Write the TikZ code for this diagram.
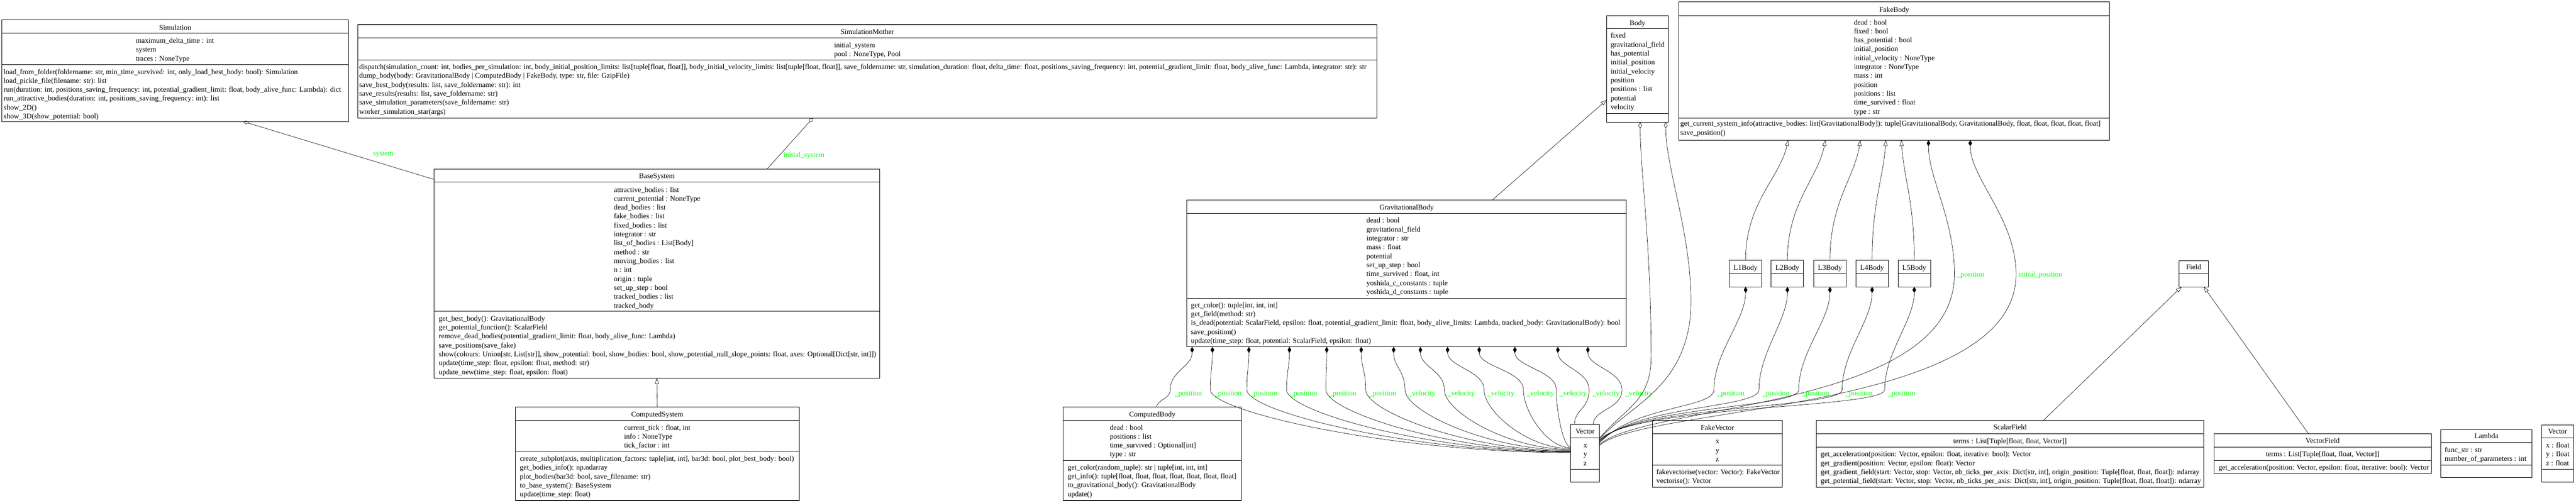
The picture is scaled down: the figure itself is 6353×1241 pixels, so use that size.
\documentclass[tikz,border=0pt]{standalone}
\usepackage{fontspec}
\setmainfont{Liberation Serif}
\usepackage{tikz}
\usetikzlibrary{arrows.meta}
\usepackage{xcolor}
\definecolor{labelgreen}{RGB}{0,255,0}
\tikzset{
    classbox/.style={
        draw,
        anchor=north west,
        line width=1.3pt,
        inner sep=0pt,
        outer sep=0pt
    },
    classline/.style={line width=1.3pt},
    classtitle/.style={font=\fontsize{18}{22}\selectfont, anchor=base, inner sep=0pt},
    classtext/.style={font=\fontsize{18}{22}\selectfont, anchor=base west, inner sep=0pt},
    edgelabel/.style={font=\fontsize{18}{22}\selectfont, text=labelgreen, anchor=base west, inner sep=0pt},
    assoc/.style={draw, line width=0.8pt},
    comp/.style={assoc, -{Diamond[length=15pt, width=9pt]}},
    aggr/.style={assoc, -{Diamond[open, length=15pt, width=9pt]}},
    inherit/.style={assoc, -{Triangle[open, length=14pt, width=10pt]}}
}
% name, left, top, right, bottom, title baseline, title, separators
\newcommand{\umlclass}[8]{%
  \node[classbox, minimum width={#4-#2}, minimum height={#5-#3}] (#1) at (#2,#3) {};
  \node[classtitle] (#1-t) at ({(#2+#4)/2},#6) {#7};
  \foreach \s in {#8} {\draw[classline] (#2,\s) -- (#4,\s);}
}
% prefix, x, first baseline, lines
\newcommand{\umllines}[4]{%
  \foreach \entry [count=\i] in {#4} {
    \node[classtext] (#1\i) at (#2,{#3+22*(\i-1)}) {\entry};
  }
}

\begin{document}
\begin{tikzpicture}[x=1pt, y=-1pt]
  \useasboundingbox (0,0) rectangle (6353,1241);

  % Simulation side
  \umlclass{sim}{5}{49}{859}{300}{74}{Simulation}{82,159}
  \umllines{sim-a}{335}{106}{{maximum\_delta\_time : int},{system},{traces : NoneType}}
  \umllines{sim-m}{9}{183}{{load\_from\_folder(foldername: str, min\_time\_survived: int, only\_load\_best\_body: bool): Simulation},{load\_pickle\_file(filename: str): list},{run(duration: int, positions\_saving\_frequency: int, potential\_gradient\_limit: float, body\_alive\_func: Lambda): dict},{run\_attractive\_bodies(duration: int, positions\_saving\_frequency: int): list},{show\_2D()},{show\_3D(show\_potential: bool)}}

  \umlclass{smo}{882}{61}{3396}{291}{84}{SimulationMother}{93,148}
  \umllines{smo-a}{2057}{117}{{initial\_system},{pool : NoneType, Pool}}
  \umllines{smo-m}{886}{171}{{dispatch(simulation\_count: int, bodies\_per\_simulation: int, body\_initial\_position\_limits: list[tuple[float, float]], body\_initial\_velocity\_limits: list[tuple[float, float]], save\_foldername: str, simulation\_duration: float, delta\_time: float, positions\_saving\_frequency: int, potential\_gradient\_limit: float, body\_alive\_func: Lambda, integrator: str): str},{dump\_body(body: GravitationalBody | ComputedBody | FakeBody, type: str, file: GzipFile)},{save\_best\_body(results: list, save\_foldername: str): int},{save\_results(results: list, save\_foldername: str)},{save\_simulation\_parameters(save\_foldername: str)},{worker\_simulation\_star(args)}}

  % Systems
  \umlclass{bs}{1071}{417}{2169}{933}{440}{BaseSystem}{449,768}
  \umllines{bs-a}{1514}{474}{{attractive\_bodies : list},{current\_potential : NoneType},{dead\_bodies : list},{fake\_bodies : list},{fixed\_bodies : list},{integrator : str},{list\_of\_bodies : List[Body]},{method : str},{moving\_bodies : list},{n : int},{origin : tuple},{set\_up\_step : bool},{tracked\_bodies : list},{tracked\_body}}
  \umllines{bs-m}{1082}{792}{{get\_best\_body(): GravitationalBody},{get\_potential\_function(): ScalarField},{remove\_dead\_bodies(potential\_gradient\_limit: float, body\_alive\_func: Lambda)},{save\_positions(save\_fake)},{show(colours: Union[str, List[str]], show\_potential: bool, show\_bodies: bool, show\_potential\_null\_slope\_points: float, axes: Optional[Dict[str, int]])},{update(time\_step: float, epsilon: float, method: str)},{update\_new(time\_step: float, epsilon: float)}}

  \umlclass{csys}{1271}{1004}{1971}{1235}{1028}{ComputedSystem}{1037,1114}
  \umllines{csys-a}{1539}{1061}{{current\_tick : float, int},{info : NoneType},{tick\_factor : int}}
  \umllines{csys-m}{1282}{1138}{{create\_subplot(axis, multiplication\_factors: tuple[int, int], bar3d: bool, plot\_best\_body: bool)},{get\_bodies\_info(): np.ndarray},{plot\_bodies(bar3d: bool, save\_filename: str)},{to\_base\_system(): BaseSystem},{update(time\_step: float)}}

  % Bodies
  \umlclass{cb}{2622}{1004}{3062}{1235}{1028}{ComputedBody}{1037,1136}
  \umllines{cb-a}{2737}{1061}{{dead : bool},{positions : list},{time\_survived : Optional[int]},{type : str}}
  \umllines{cb-m}{2633}{1159}{{get\_color(random\_tuple): str | tuple[int, int, int]},{get\_info(): tuple[float, float, float, float, float, float, float]},{to\_gravitational\_body(): GravitationalBody},{update()}}

  \umlclass{gb}{2927}{494}{4011}{856}{518}{GravitationalBody}{527,736}
  \umllines{gb-a}{3370}{550}{{dead : bool},{gravitational\_field},{integrator : str},{mass : float},{potential},{set\_up\_step : bool},{time\_survived : float, int},{yoshida\_c\_constants : tuple},{yoshida\_d\_constants : tuple}}
  \umllines{gb-m}{2937}{759}{{get\_color(): tuple[int, int, int]},{get\_field(method: str)},{is\_dead(potential: ScalarField, epsilon: float, potential\_gradient\_limit: float, body\_alive\_limits: Lambda, tracked\_body: GravitationalBody): bool},{save\_position()},{update(time\_step: float, potential: ScalarField, epsilon: float)}}

  \umlclass{bd}{3962}{39}{4115}{302}{63}{Body}{71,280}
  \umllines{bd-a}{3972}{94}{{fixed},{gravitational\_field},{has\_potential},{initial\_position},{initial\_velocity},{position},{positions : list},{potential},{velocity}}

  \umlclass{fb}{4140}{5}{5203}{346}{30}{FakeBody}{39,291}
  \umllines{fb-a}{4572}{61}{{dead : bool},{fixed : bool},{has\_potential : bool},{initial\_position},{initial\_velocity : NoneType},{integrator : NoneType},{mass : int},{position},{positions : list},{time\_survived : float},{type : str}}
  \umllines{fb-m}{4144}{311}{{get\_current\_system\_info(attractive\_bodies: list[GravitationalBody]): tuple[GravitationalBody, GravitationalBody, float, float, float, float, float]},{save\_position()}}

  \foreach \n/\lx in {1/4265, 2/4368, 3/4473, 4/4577, 5/4681} {
    \umlclass{l\n}{\lx}{642}{\lx+80}{708}{666}{L\n Body}{675}
  }

  % Vectors and fields
  \umlclass{vm}{3873}{1048}{3945}{1190}{1071}{Vector}{1081,1158}
  \umllines{vm-a}{3905}{1105}{{x},{y},{z}}

  \umlclass{fv}{4075}{1037}{4396}{1202}{1061}{FakeVector}{1070,1148}
  \umllines{fv-a}{4231}{1095}{{x},{y},{z}}
  \umllines{fv-m}{4085}{1171}{{fakevectorise(vector: Vector): FakeVector},{vectorise(): Vector}}

  \umlclass{fld}{5374}{643}{5446}{708}{665}{Field}{675}

  \umlclass{sf}{4479}{1037}{5435}{1202}{1060}{ScalarField}{1070,1103}
  \node[classtitle] (sf-a1) at (4957,1094) {terms : List[Tuple[float, float, Vector]]};
  \umllines{sf-m}{4490}{1127}{{get\_acceleration(position: Vector, epsilon: float, iterative: bool): Vector},{get\_gradient(position: Vector, epsilon: float): Vector},{get\_gradient\_field(start: Vector, stop: Vector, nb\_ticks\_per\_axis: Dict[str, int], origin\_position: Tuple[float, float, float]): ndarray},{get\_potential\_field(start: Vector, stop: Vector, nb\_ticks\_per\_axis: Dict[str, int], origin\_position: Tuple[float, float, float]): ndarray}}

  \umlclass{vf}{5460}{1070}{5996}{1168}{1093}{VectorField}{1103,1136}
  \node[classtitle] (vf-a1) at (5728,1127) {terms : List[Tuple[float, float, Vector]]};
  \umllines{vf-m}{5471}{1160}{{get\_acceleration(position: Vector, epsilon: float, iterative: bool): Vector}}

  \umlclass{lam}{6020}{1060}{6244}{1179}{1082}{Lambda}{1092,1148}
  \umllines{lam-a}{6029}{1116}{{func\_str : str},{number\_of\_parameters : int}}

  \umlclass{vr}{6268}{1049}{6347}{1190}{1071}{Vector}{1081,1158}
  \umllines{vr-a}{6279}{1105}{{x : float},{y : float},{z : float}}

  % Aggregations
  \draw[aggr] ([yshift=232]bs.west) -- ([xshift=168]sim.south);
  \draw[aggr] ([xshift=272]bs.north) -- ([xshift=-134]smo.south);
  \node[edgelabel, anchor=base] (lsys) at (945,384) {system};
  \node[edgelabel] (linit) at (1932,388) {initial\_system};

  % Generalizations
  \draw[inherit] (csys.north) -- (bs.south);
  \draw[inherit] ([xshift=211]gb.north) -- ([yshift=-76.5]bd.west);
  \foreach \n/\lx/\tx in {1/4305/4410, 2/4408.5/4502, 3/4513/4588, 4/4617/4651, 5/4721/4689} {
    \draw[inherit] (l\n.north) .. controls (\lx,500) and ({\tx-0.2*(\tx-\lx)},440) .. ([xshift={\tx-4671.5}]fb.south);
  }
  \draw[inherit] ([xshift=83]sf.north) -- ([xshift=-30]fld.south);
  \draw[inherit] ([xshift=-35]vf.north) -- ([xshift=25]fld.south);

  % Compositions of GravitationalBody
  \draw[comp] ([xshift=10]cb.north) .. controls (2856,985) and (2886,985) .. (2886,962) .. controls (2886,915) and (2940,905) .. ([xshift=-529]gb.south);
  \foreach \d/\v/\ys in {2990/2985/2, 3080/3075/3, 3180/3173/4, 3272/3270/5, 3357/3368/6, 3437/3465/8, 3503/3562/10, 3570/3660/12, 3648/3757/14, 3736/3838/16} {
    \draw[comp] ([yshift=\ys]vm.west) .. controls ({(3873+\v)/2},{1119-\ys}) and (\v,1015) .. (\v,962) .. controls (\v,915) and (\d,905) .. ([xshift={\d-3469}]gb.south);
  }
  \draw[comp] ([xshift=-26]vm.north) .. controls (3883,1010) and (3919,1010) .. (3919,962) .. controls (3919,915) and (3842,905) .. ([xshift=373]gb.south);
  \draw[comp] ([xshift=20]vm.north) .. controls (3929,1010) and (4000,1010) .. (4000,962) .. controls (4000,915) and (3916,905) .. ([xshift=447]gb.south);
  \foreach \lx/\lab [count=\i] in {2897/position, 2995/position, 3083/position, 3181/position, 3278/position, 3376/position, 3473/velocity, 3570/velocity, 3668/velocity, 3765/velocity, 3846/velocity, 3927/velocity, 4008/velocity} {
    \node[edgelabel] (gl\i) at (\lx,976) {\_\lab};
  }

  % Body, FakeBody and L bodies to Vector
  \draw[aggr] ([yshift=38]vm.east) .. controls (4010,1005) and (4072,990) .. (4072,880) .. controls (4072,600) and (4045,420) .. ([xshift=6.5]bd.south);
  \draw[aggr] ([yshift=36]vm.east) .. controls (4020,1000) and (4150,960) .. (4169,780) .. controls (4180,600) and (4108,420) .. ([xshift=69.5]bd.south);
  \draw[comp] ([yshift=22]vm.east) .. controls (4060,995) and (4820,1012) .. (4820,677) .. controls (4820,540) and (4756,440) .. ([xshift=84.5]fb.south);
  \draw[comp] ([yshift=20]vm.east) .. controls (4060,1000) and (4972,1018) .. (4972,677) .. controls (4972,540) and (4859,440) .. ([xshift=187.5]fb.south);
  \node[edgelabel] (lfb1) at (4826,683) {\_position};
  \node[edgelabel] (lfb2) at (4977,683) {initial\_position};
  \foreach \n/\v/\lx/\ys in {1/4227/4305/26, 2/4338/4408.5/28, 3/4436/4513/30, 4/4543/4617/32, 5/4648/4721/34} {
    \draw[comp] ([yshift=\ys]vm.east) .. controls (4030,1000) and (\v,1008) .. (\v,962) .. controls (\v,870) and (\lx,790) .. (l\n.south);
    \node[edgelabel] (ll\n) at (\v+8,976) {\_position};
  }
\end{tikzpicture}
\end{document}
